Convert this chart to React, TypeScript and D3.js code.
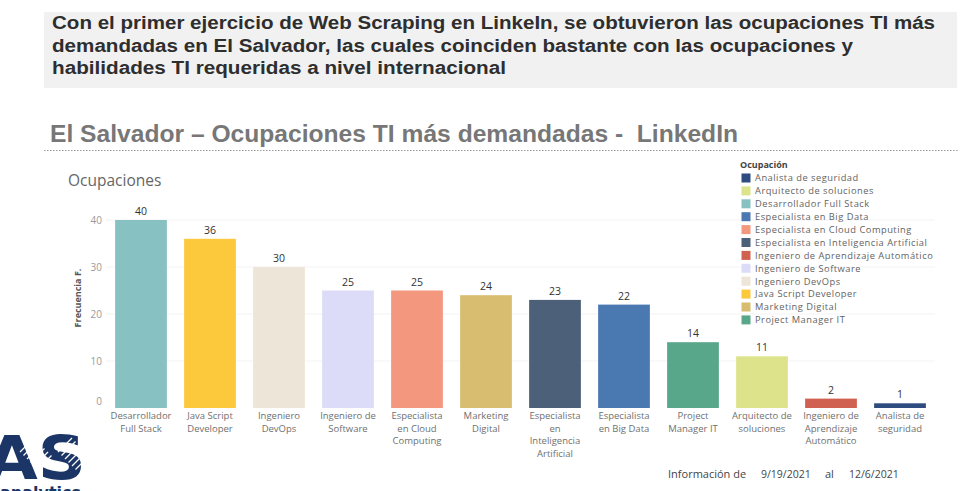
import React, { useEffect, useRef } from 'react';
import * as d3 from 'd3';

// datos
const categories = [
  'Desarrollador Full Stack',
  'Java Script Developer',
  'Ingeniero DevOps',
  'Ingeniero de Software',
  'Especialista en Cloud Computing',
  'Marketing Digital',
  'Especialista en Inteligencia Artificial',
  'Especialista en Big Data',
  'Project Manager IT',
  'Arquitecto de soluciones',
  'Ingeniero de Aprendizaje Automático',
  'Analista de seguridad',
];
const values = [40, 36, 30, 25, 25, 24, 23, 22, 14, 11, 2, 1];
const tickLabels = [
  ['Desarrollador', 'Full Stack'],
  ['Java Script', 'Developer'],
  ['Ingeniero', 'DevOps'],
  ['Ingeniero de', 'Software'],
  ['Especialista', 'en Cloud', 'Computing'],
  ['Marketing', 'Digital'],
  ['Especialista', 'en', 'Inteligencia', 'Artificial'],
  ['Especialista', 'en Big Data'],
  ['Project', 'Manager IT'],
  ['Arquitecto de', 'soluciones'],
  ['Ingeniero de', 'Aprendizaje', 'Automático'],
  ['Analista de', 'seguridad'],
];
const colors = [
  '#88c1c2', '#fcc83c', '#ede5d7', '#dcdcf9', '#f4977f', '#d8bd71',
  '#4c6179', '#4a78b1', '#58a78a', '#dde38b', '#d0604f', '#2e4c80',
];
const legendOrder = [
  'Analista de seguridad',
  'Arquitecto de soluciones',
  'Desarrollador Full Stack',
  'Especialista en Big Data',
  'Especialista en Cloud Computing',
  'Especialista en Inteligencia Artificial',
  'Ingeniero de Aprendizaje Automático',
  'Ingeniero de Software',
  'Ingeniero DevOps',
  'Java Script Developer',
  'Marketing Digital',
  'Project Manager IT',
];
const yTicks = [0, 10, 20, 30, 40];
const headline = [
  'Con el primer ejercicio de Web Scraping en LinkeIn, se obtuvieron las ocupaciones TI más',
  'demandadas en El Salvador, las cuales coinciden bastante con las ocupaciones y',
  'habilidades TI requeridas a nivel internacional',
];
const headlineWidths = [883, 801, 454];

const font = '"Open Sans", "Noto Sans", sans-serif';

const App = () => {
  const ref = useRef<SVGSVGElement | null>(null);

  useEffect(() => {
    if (!ref.current) return;
    const svg = d3.select(ref.current);
    svg.selectAll('*').remove();

    // cabecera gris
    svg.append('rect').attr('x', 44).attr('y', 12).attr('width', 913).attr('height', 76).attr('fill', '#f1f1f1');
    headline.forEach((t, i) => {
      svg.append('text')
        .attr('x', 52).attr('y', 29 + i * 22.5)
        .attr('font-family', '"Liberation Sans", Arial, sans-serif')
        .attr('font-weight', 'bold').attr('font-size', 17.5)
        .attr('fill', '#2e2e2e')
        .attr('textLength', headlineWidths[i]).attr('lengthAdjust', 'spacingAndGlyphs')
        .text(t);
    });

    // título
    svg.append('text')
      .attr('x', 50).attr('y', 142)
      .attr('font-family', '"Liberation Sans", Arial, sans-serif')
      .attr('font-weight', 'bold').attr('font-size', 23)
      .attr('fill', '#777')
      .style('white-space', 'pre')
      .attr('textLength', 688).attr('lengthAdjust', 'spacingAndGlyphs')
      .text('El Salvador – Ocupaciones TI más demandadas -  LinkedIn');
    svg.append('line')
      .attr('x1', 44).attr('x2', 958).attr('y1', 150.5).attr('y2', 150.5)
      .attr('stroke', '#9a9a9a').attr('stroke-width', 1).attr('stroke-dasharray', '1.5,1.5');

    // escalas
    const x = d3.scaleBand<string>()
      .domain(categories)
      .range([106.5, 934.5])
      .paddingInner(0.25)
      .paddingOuter(0.125);
    const y = d3.scaleLinear().domain([0, 40]).range([408, 220]);

    svg.append('text')
      .attr('x', 68).attr('y', 186)
      .attr('font-family', font).attr('font-size', 15.5).attr('fill', '#666')
      .text('Ocupaciones');

    // rejilla tenue
    svg.append('g').selectAll('line')
      .data(yTicks.slice(1))
      .enter().append('line')
      .attr('x1', 106).attr('x2', 935)
      .attr('y1', d => y(d)).attr('y2', d => y(d))
      .attr('stroke', '#f3f3f3');

    // eje y
    const yAxis = d3.axisLeft(y).tickValues(yTicks).tickSize(0).tickPadding(0);
    const gy = svg.append('g').attr('transform', 'translate(102,0)').call(yAxis);
    gy.select('.domain').remove();
    gy.selectAll('text')
      .attr('font-family', font).attr('font-size', 10).attr('fill', '#9a9a9a')
      .attr('dy', (d: any) => (d === 0 ? '-0.35em' : '0.32em'));

    svg.append('text')
      .attr('transform', 'translate(81,298) rotate(-90)')
      .attr('text-anchor', 'middle')
      .attr('font-family', font).attr('font-size', 9).attr('font-weight', 'bold').attr('fill', '#555')
      .text('Frecuencia F.');

    // barras
    svg.append('g').selectAll('rect')
      .data(categories)
      .enter().append('rect')
      .attr('x', d => x(d)!)
      .attr('y', (d, i) => y(values[i]))
      .attr('width', x.bandwidth())
      .attr('height', (d, i) => y(0) - y(values[i]))
      .attr('fill', (d, i) => colors[i]);

    svg.append('g').selectAll('text')
      .data(categories)
      .enter().append('text')
      .attr('x', d => x(d)! + x.bandwidth() / 2)
      .attr('y', (d, i) => y(values[i]) - 5)
      .attr('text-anchor', 'middle')
      .attr('font-family', font).attr('font-size', 10.5).attr('fill', '#333')
      .text((d, i) => values[i]);

    // etiquetas eje x
    const gx = svg.append('g');
    categories.forEach((c, i) => {
      const t = gx.append('text')
        .attr('x', x(c)! + x.bandwidth() / 2)
        .attr('y', 419)
        .attr('text-anchor', 'middle')
        .attr('font-family', font).attr('font-size', 9.5).attr('fill', '#707070');
      tickLabels[i].forEach((l, j) => {
        t.append('tspan').attr('x', x(c)! + x.bandwidth() / 2).attr('dy', j === 0 ? 0 : 12.5).text(l);
      });
    });

    // leyenda
    const lg = svg.append('g').attr('transform', 'translate(740,0)');
    lg.append('text')
      .attr('x', 0).attr('y', 168)
      .attr('font-family', font).attr('font-size', 9).attr('font-weight', 'bold').attr('fill', '#444')
      .text('Ocupación');
    legendOrder.forEach((name, i) => {
      const yy = 178 + i * 12.9;
      lg.append('rect')
        .attr('x', 1.5).attr('y', yy - 4.5).attr('width', 9).attr('height', 9)
        .attr('fill', colors[categories.indexOf(name)]);
      lg.append('text')
        .attr('x', 15).attr('y', yy + 3.3)
        .attr('font-family', font).attr('font-size', 9.3).attr('fill', '#636363')
        .attr('letter-spacing', 0.5)
        .text(name);
    });

    // pie
    const foot = svg.append('g')
      .attr('font-family', font).attr('font-size', 11).attr('fill', '#444');
    foot.append('text').attr('x', 668).attr('y', 478).text('Información de');
    foot.append('text').attr('x', 761).attr('y', 478).attr('font-size', 10.5).text('9/19/2021');
    foot.append('text').attr('x', 825).attr('y', 478).text('al');
    foot.append('text').attr('x', 849).attr('y', 478).attr('font-size', 10.5).text('12/6/2021');

    // logo recortado
    const logo = svg.append('g');
    logo.append('text')
      .attr('x', -14).attr('y', 479)
      .attr('font-family', '"DejaVu Sans", sans-serif').attr('font-weight', 'bold')
      .attr('font-size', 60).attr('fill', '#1b3566')
      .attr('textLength', 100).attr('lengthAdjust', 'spacingAndGlyphs')
      .text('AS');
    const hatch = logo.append('g').attr('stroke', '#fff').attr('stroke-width', 1.2);
    d3.range(6).forEach(k => {
      hatch.append('line')
        .attr('x1', 20 + k * 3.5).attr('y1', 452 + k * 3.5)
        .attr('x2', 34 + k * 3.5).attr('y2', 438 + k * 3.5);
      hatch.append('line')
        .attr('x1', 58 + k * 3.5).attr('y1', 452 + k * 3.5)
        .attr('x2', 72 + k * 3.5).attr('y2', 438 + k * 3.5);
    });
    logo.append('text')
      .attr('x', 0).attr('y', 498)
      .attr('font-family', '"DejaVu Sans", sans-serif').attr('font-weight', 'bold')
      .attr('font-size', 16).attr('fill', '#1b3566')
      .text('analytics');
  }, []);

  return (
    <svg ref={ref} width={976} height={491} style={{ position: 'absolute', left: 0, top: 0, background: '#fff' }} />
  );
};

export default App;
